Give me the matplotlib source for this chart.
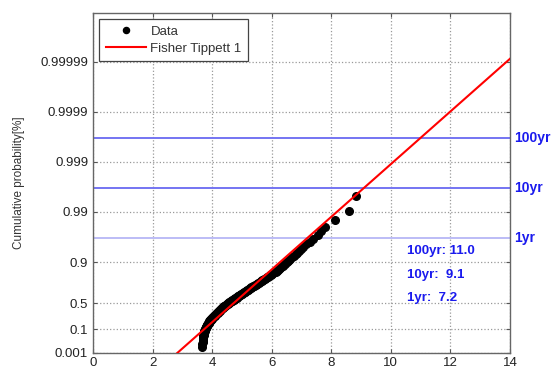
import numpy as np
import matplotlib
matplotlib.use("Agg")
import matplotlib.pyplot as plt

plt.rcParams["font.family"] = ["Liberation Sans", "DejaVu Sans"]

# sorted sample values (200 events)
data = [
    3.66, 3.67, 3.68, 3.68, 3.69, 3.69, 3.70, 3.70, 3.70, 3.71,
    3.71, 3.72, 3.72, 3.73, 3.73, 3.74, 3.75, 3.75, 3.76, 3.77,
    3.77, 3.78, 3.79, 3.79, 3.80, 3.81,
    3.82, 3.82, 3.83, 3.84, 3.84, 3.85, 3.86, 3.86, 3.87, 3.88,
    3.88, 3.89, 3.90, 3.90, 3.91, 3.92, 3.92, 3.93,
    3.94, 3.95, 3.96, 3.97, 3.98, 3.99, 4.00, 4.01, 4.02, 4.03,
    4.04, 4.05, 4.06, 4.07, 4.08, 4.09, 4.10, 4.11, 4.12, 4.13, 4.14, 4.15,
    4.16, 4.17, 4.18, 4.19, 4.20, 4.21, 4.22, 4.23, 4.24, 4.25,
    4.26, 4.27, 4.28, 4.29, 4.30, 4.31, 4.32, 4.33, 4.34, 4.35, 4.36, 4.37,
    4.38, 4.40, 4.41, 4.42, 4.44, 4.45, 4.46, 4.48, 4.49, 4.50,
    4.52, 4.53, 4.55, 4.56, 4.57, 4.59, 4.60,
    4.62, 4.63, 4.65, 4.67, 4.68, 4.70, 4.72, 4.73, 4.75, 4.77,
    4.78, 4.80, 4.82, 4.83, 4.85, 4.87, 4.88, 4.90, 4.92, 4.93,
    4.95, 4.97, 4.99, 5.01, 5.03, 5.05, 5.07, 5.09, 5.11, 5.13,
    5.15, 5.17, 5.19, 5.21, 5.23, 5.25, 5.27,
    5.30, 5.32, 5.35, 5.37, 5.40, 5.42, 5.45, 5.47, 5.50, 5.52, 5.55, 5.57, 5.60,
    5.63, 5.66, 5.69, 5.72, 5.75, 5.78, 5.81, 5.85, 5.88, 5.91, 5.94,
    5.98, 6.02, 6.05, 6.09, 6.13, 6.17, 6.20, 6.24, 6.28,
    6.32, 6.35, 6.39, 6.43, 6.46, 6.50, 6.54, 6.57, 6.61,
    6.67, 6.74, 6.80, 6.86, 6.92, 6.99, 7.05,
    7.15, 7.28, 7.40, 7.55, 7.67, 7.79, 8.12, 8.60, 8.83,
]

# Fisher Tippett 1 (Gumbel) fit parameters
mu = 4.418
beta = 0.822

events_per_year = 30
return_periods = [1, 10, 100]
return_labels = ["1yr", "10yr", "100yr"]
return_values = ["7.2", "9.1", "11.0"]

prob_ticks = [0.001, 0.1, 0.5, 0.9, 0.99, 0.999, 0.9999, 0.99999]
prob_labels = ["0.001", "0.1", "0.5", "0.9", "0.99", "0.999", "0.9999", "0.99999"]


def gumbel_y(p):
    p = np.asarray(p, dtype=float)
    return -np.log(-np.log(p))


n = len(data)
pp = np.arange(1, n + 1) / (n + 1.0)

fig = plt.figure(figsize=(5.51, 3.72), dpi=100)
ax = fig.add_axes([0.1688, 0.0511, 0.7568, 0.9139])

ymin = gumbel_y(0.001)
ymax = 13.77

# return level lines
line_colors = ["#bcbcf6", "#7474f2", "#7474f2"]
for T, lab, c in zip(return_periods, return_labels, line_colors):
    yv = gumbel_y(1 - 1.0 / (events_per_year * T))
    ax.axhline(yv, color=c, lw=1.4, zorder=2)
    ax.text(1.01, yv, lab, transform=ax.get_yaxis_transform(),
            color="#1a1aee", fontsize=10, fontweight="bold",
            va="center", ha="left", clip_on=False)

ax.plot(data, gumbel_y(pp), "o", color="black", ms=5.5,
        label="Data", zorder=3)

xf = np.array([mu + beta * ymin, 14.0])
ax.plot(xf, (xf - mu) / beta, "-", color="#ff0000", lw=1.5,
        label="Fisher Tippett 1", zorder=4)

# return level text
txt_y = [0.60, 1.66, 2.77]
txt = ["1yr:  ", "10yr:  ", "100yr: "]
for ty, t, v in zip(txt_y, txt, return_values):
    ax.text(10.53, ty, t + v, color="#1a1aee", fontsize=9.5,
            fontweight="bold", va="center", ha="left")

ax.set_xlim(0, 14)
ax.set_ylim(ymin, ymax)
ax.set_xticks(range(0, 15, 2))
ax.set_yticks(gumbel_y(prob_ticks))
ax.set_yticklabels(prob_labels)
ax.tick_params(direction="in", top=True, right=True, length=3,
               labelsize=9.5, labelcolor="#222222", color="#555555")
ax.tick_params(axis="x", pad=3)
ax.grid(True, linestyle=":", color="#999999", lw=0.9)
for s in ax.spines.values():
    s.set_color("#666666")
    s.set_linewidth(1.0)

ax.set_ylabel("Cumulative probability[%]", fontsize=8.5, color="#333333",
              labelpad=11)

leg = ax.legend(loc="upper left", fontsize=9.5, fancybox=False,
                framealpha=1, edgecolor="#444444", borderaxespad=0.45,
                handlelength=3.1, handletextpad=0.3, labelspacing=0.35,
                borderpad=0.5, markerscale=0.8)
leg.get_frame().set_linewidth(0.9)
for t in leg.get_texts():
    t.set_color("#333333")

fig.savefig("out.png", dpi=100)
